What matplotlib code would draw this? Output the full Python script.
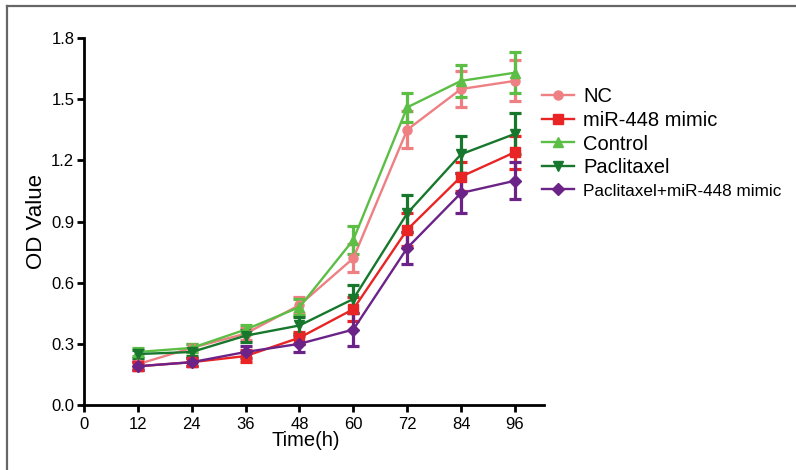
import matplotlib
matplotlib.use('Agg')
import matplotlib.pyplot as plt

plt.rcParams['font.family'] = ['Liberation Sans', 'DejaVu Sans']

# OD readings (mean +/- SD) at each time point
hours = [12, 24, 36, 48, 60, 72, 84, 96]
groups = ['NC', 'miR-448 mimic', 'Control', 'Paclitaxel', 'Paclitaxel+miR-448 mimic']

nc_od = [0.20, 0.28, 0.35, 0.49, 0.72, 1.35, 1.55, 1.59]
nc_sd = [0.02, 0.02, 0.03, 0.04, 0.07, 0.09, 0.09, 0.10]
mimic_od = [0.19, 0.21, 0.24, 0.33, 0.47, 0.86, 1.12, 1.24]
mimic_sd = [0.02, 0.02, 0.03, 0.03, 0.06, 0.08, 0.07, 0.08]
control_od = [0.26, 0.28, 0.37, 0.48, 0.81, 1.46, 1.59, 1.63]
control_sd = [0.02, 0.02, 0.02, 0.04, 0.07, 0.07, 0.08, 0.10]
ptx_od = [0.25, 0.26, 0.34, 0.39, 0.52, 0.94, 1.23, 1.33]
ptx_sd = [0.02, 0.02, 0.03, 0.04, 0.07, 0.09, 0.09, 0.10]
ptx_mimic_od = [0.19, 0.21, 0.26, 0.30, 0.37, 0.77, 1.04, 1.10]
ptx_mimic_sd = [0.02, 0.02, 0.03, 0.04, 0.08, 0.08, 0.10, 0.09]

means = [nc_od, mimic_od, control_od, ptx_od, ptx_mimic_od]
sds = [nc_sd, mimic_sd, control_sd, ptx_sd, ptx_mimic_sd]
colors = ['#EE7F82', '#E82424', '#5CBE45', '#17772C', '#6B2388']
markers = ['o', 's', '^', 'v', 'D']
msizes = [6.5, 6.5, 7.5, 7.5, 6]

fig = plt.figure(figsize=(7.96, 4.70), dpi=100)
ax = fig.add_axes([0.1055, 0.1383, 0.578, 0.7807])

handles = []
for m, s, c, mk, ms, name in zip(means, sds, colors, markers, msizes, groups):
    cont = ax.errorbar(hours, m, yerr=s, color=c, marker=mk, markersize=ms,
                       linewidth=1.7, elinewidth=2.3, capsize=4, capthick=2.3,
                       label=name)
    handles.append(cont.lines[0])

ax.set_xlim(0, 102.5)
ax.set_ylim(0, 1.8)
ax.set_xticks([0] + hours)
ax.set_yticks([0.0, 0.3, 0.6, 0.9, 1.2, 1.5, 1.8])
ax.set_yticklabels(['0.0', '0.3', '0.6', '0.9', '1.2', '1.5', '1.8'])

for side in ['top', 'right']:
    ax.spines[side].set_visible(False)
for side in ['left', 'bottom']:
    ax.spines[side].set_linewidth(2.0)
ax.tick_params(axis='both', direction='out', length=5, width=2.0,
               labelsize=12, colors='black')
ax.tick_params(axis='x', pad=4)
ax.tick_params(axis='y', pad=2)

ax.set_xlabel('Time(h)', fontsize=14.5)
ax.xaxis.set_label_coords(0.483, -0.072)
ax.set_ylabel('OD Value', fontsize=16, labelpad=3)

leg = ax.legend(handles=handles, labels=groups, loc='upper left',
                bbox_to_anchor=(0.995, 0.867), frameon=False, fontsize=14.5,
                handlelength=1.6, handletextpad=0.45, labelspacing=0.24,
                borderaxespad=0.0, borderpad=0.0)
leg.get_texts()[-1].set_fontsize(12.3)

# thin grey frame along the top and left of the figure
fig.add_artist(plt.Line2D([6.5 / 796, 1.0], [1 - 5.5 / 470, 1 - 5.5 / 470],
                          transform=fig.transFigure, color='#666666', linewidth=1.6))
fig.add_artist(plt.Line2D([6.5 / 796, 6.5 / 796], [0.0, 1 - 5.5 / 470],
                          transform=fig.transFigure, color='#666666', linewidth=1.6))

plt.savefig('out.png', dpi=100)
